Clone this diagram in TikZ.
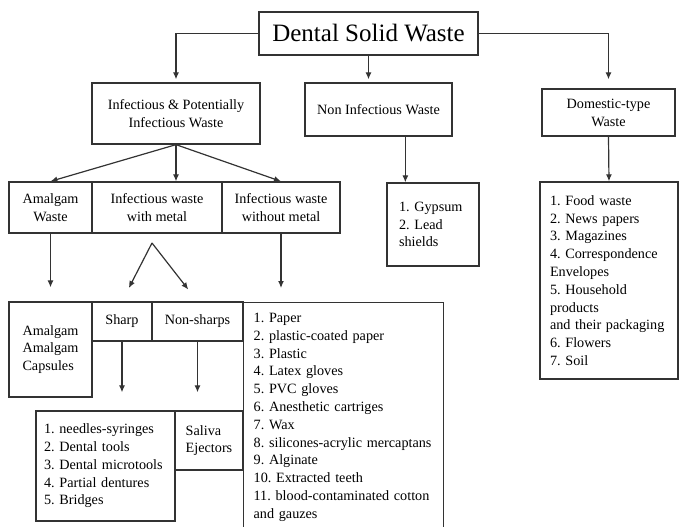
\documentclass[tikz,border=0pt]{standalone}
\usepackage{fontspec}
\setmainfont{Liberation Serif}
\usetikzlibrary{arrows.meta}
\frenchspacing

\begin{document}
\begin{tikzpicture}[x=1pt,y=-1pt,
  box/.style={draw=black!80, line width=1.3pt, inner sep=0pt, align=center, font=\fontsize{14.2}{18}\selectfont},
  listbox/.style={box, align=left, font=\fontsize{14.2}{17.8}\selectfont},
  arr/.style={draw=black!80, line width=1.2pt, -{Latex[length=7pt,width=6pt]}}]
\useasboundingbox (0,0) rectangle (681,527);
\clip (0,0) rectangle (681,527);
\node[box, minimum width=219, minimum height=43, font=\fontsize{25}{30}\selectfont] (top) at (368.5,33.5) {Dental Solid Waste};
\node[box, minimum width=168, minimum height=61] (inf) at (176,113.5) {Infectious \& Potentially\\Infectious Waste};
\node[box, minimum width=147, minimum height=53] (non) at (378.5,109.5) {Non Infectious Waste};
\node[box, minimum width=133, minimum height=47] (dom) at (608.5,112.5) {Domestic-type\\Waste};
\node[box, minimum width=83, minimum height=51] (amw) at (50.5,207.5) {Amalgam\\Waste};
\node[box, minimum width=130, minimum height=51] (wm) at (157,207.5) {Infectious waste\\with metal};
\node[box, minimum width=118, minimum height=51] (wom) at (281,207.5) {Infectious waste\\without metal};
\node[listbox, minimum width=92, minimum height=83, text width=68] (gyp) at (433,224.5) {1. Gypsum\\2. Lead\\shields};
\node[listbox, minimum width=138, minimum height=197, text width=118] (dlist) at (609,280.5) {1. Food waste\\2. News papers\\3. Magazines\\4. Correspondence\\Envelopes\\5. Household\\products\\and their packaging\\6. Flowers\\7. Soil};
\node[listbox, minimum width=83, minimum height=95] (amc) at (50.5,349.5) {Amalgam\\Amalgam\\Capsules};
\node[box, minimum width=60, minimum height=39] (sharp) at (122,321.5) {Sharp};
\node[box, minimum width=91, minimum height=39] (nons) at (197.5,321.5) {Non-sharps};
\node[listbox, anchor=north west, text width=180, inner xsep=10pt, inner ysep=10.4pt] (paper) at (243,302) {1. Paper\\2. plastic-coated paper\\3. Plastic\\4. Latex gloves\\5. PVC gloves\\6. Anesthetic cartriges\\7. Wax\\8. silicones-acrylic mercaptans\\9. Alginate\\10. Extracted teeth\\11. blood-contaminated cotton\\and gauzes};
\node[listbox, minimum width=139, minimum height=110, text width=123] (needles) at (105.5,466) {1. needles-syringes\\2. Dental tools\\3. Dental microtools\\4. Partial dentures\\5. Bridges};
\node[listbox, minimum width=68, minimum height=59] (saliva) at (209,440.5) {Saliva\\Ejectors};
\coordinate (gypin) at ([xshift=19pt]gyp.north west);
\coordinate (apex) at (152,243);
\draw[arr, shorten >=3pt] (top.west) -| (inf.north);
\draw[arr, shorten >=3pt] (top.south) -- (top.south |- non.north);
\draw[arr, shorten >=9pt] (top.east) -| (dom.north);
\draw[arr] (inf.south) -- (amw.north);
\draw[arr] (inf.south) -- (inf.south |- wm.north);
\draw[arr] (inf.south) -- (wom.north);
\draw[arr] (gypin |- non.south) -- (gypin);
\draw[arr] (dom.south) -- (dlist.north);
\draw[arr, shorten >=14pt] (amw.south) -- (amc.north);
\draw[arr, shorten >=15pt] (apex) -- (sharp.north);
\draw[arr, shorten >=15pt] (apex) -- (nons.north);
\draw[arr, shorten >=14pt] (wom.south) -- (wom.south |- paper.north);
\draw[arr, shorten >=18pt] (sharp.south) -- (sharp.south |- needles.north);
\draw[arr, shorten >=18pt] (nons.south) -- (nons.south |- saliva.north);
\end{tikzpicture}
\end{document}
